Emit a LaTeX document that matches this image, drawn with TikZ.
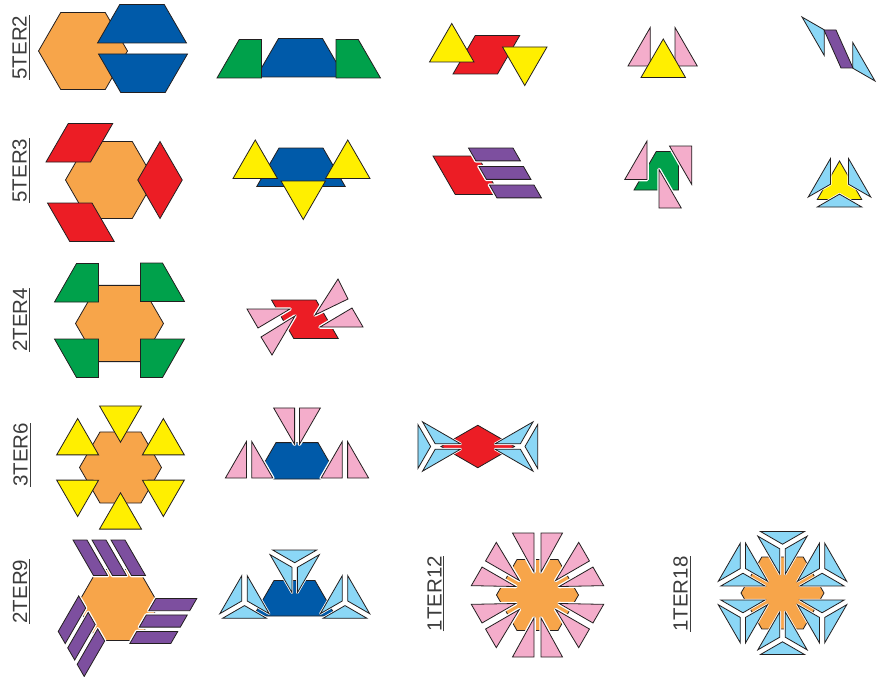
\documentclass[tikz,border=0pt]{standalone}
\usepackage{fontspec}
\newfontfamily\lblfont{Liberation Sans}
\usetikzlibrary{calc}
\definecolor{pbhex}{HTML}{F7A54A}
\definecolor{pbtrap}{HTML}{005AA9}
\definecolor{pbrhomb}{HTML}{EC1D25}
\definecolor{pbtri}{HTML}{FFEF00}
\definecolor{pbgreen}{HTML}{00A14B}
\definecolor{pbpink}{HTML}{F4ADCB}
\definecolor{pbsky}{HTML}{8BD7F6}
\definecolor{pbpurple}{HTML}{7D4F9F}
\definecolor{pbline}{HTML}{231F20}
\definecolor{pbtext}{HTML}{3C3C3C}

\begin{document}
\begin{tikzpicture}[
  x=1pt, y=1pt,
  piece/.style={draw=pbline, line width=0.8pt, line join=miter},
  halo/.style={preaction={draw=white, line width=3.5pt, line join=round}},
  thinhalo/.style={preaction={draw=white, line width=2.4pt, line join=round}},
  hexa/.style={piece, fill=pbhex},
  trap/.style={piece, fill=pbtrap},
  rhomb/.style={piece, fill=pbrhomb},
  tri/.style={piece, fill=pbtri},
  grn/.style={piece, fill=pbgreen},
  pink/.style={piece, halo, fill=pbpink},
  sky/.style={piece, thinhalo, fill=pbsky},
  purp/.style={piece, fill=pbpurple},
  lbl/.style={rotate=90, inner sep=0pt, text=pbtext,
    font=\lblfont\fontsize{20.5}{24}\selectfont},
  rule/.style={draw=pbtext, line width=0.9pt},
  hexpc/.pic={\draw[hexa] (0:1) \foreach \a in {60,120,...,300} {-- (\a:1)} -- cycle;},
  skygroup/.pic={\foreach \a in {0,120,240}
    \draw[sky, shift={(\a+60:0.07)}] (0,0) -- (\a:0.5774) -- (\a+120:0.5774) -- cycle;},
]
\useasboundingbox (0,0) rectangle (889,-677);

% labels
\node[lbl] (t52) at (19.5,-47.5) {5TER2};
\node[lbl] (t53) at (19.5,-170.5) {5TER3};
\node[lbl] (t24) at (20,-320) {2TER4};
\node[lbl] (t36) at (20.5,-455) {3TER6};
\node[lbl] (t29) at (20,-591.5) {2TER9};
\node[lbl] (t112) at (434.5,-593.5) {1TER12};
\node[lbl] (t118) at (680.5,-594) {1TER18};
\foreach \t in {t52,t53,t24,t36,t29,t112,t118}
  \draw[rule] ([xshift=2pt]\t.south west) -- ([xshift=2pt]\t.south east);

\begin{scope}[yscale=-1]
% 5TER2
\pic[transform shape, scale=44.5] at (83,51) {hexpc};
\draw[trap] (97.5,43) -- (186.5,43) -- (164.25,4.5) -- (119.75,4.5) -- cycle;
\draw[trap] (98.5,54) -- (187.5,54) -- (165.25,92.5) -- (120.75,92.5) -- cycle;

\draw[trap] (256.25,77) -- (344.75,77) -- (322.5,38.5) -- (278.5,38.5) -- cycle;
\draw[grn] (217,78) -- (261.5,78) -- (261.5,39.5) -- (239.25,39.5) -- cycle;
\draw[grn] (336,78) -- (380.5,78) -- (358.25,39.5) -- (336,39.5) -- cycle;

\draw[rhomb] (453,74) -- (497.5,74) -- (519.75,35.5) -- (475.25,35.5) -- cycle;
\draw[tri] (429.5,62) -- (474,62) -- (451.75,23.5) -- cycle;
\draw[tri] (502.5,47) -- (547,47) -- (524.75,85.5) -- cycle;

\draw[pink] (628,66) -- (650.25,66) -- (650.25,27.5) -- cycle;
\draw[pink] (675,66) -- (697.25,66) -- (675,27.5) -- cycle;
\draw[tri] (641,77.5) -- (685.5,77.5) -- (663.25,39) -- cycle;

\draw[sky] (802,17) -- (824.25,55.5) -- (824.2,29.8) -- cycle;
\draw[sky] (875,81) -- (852.75,42.5) -- (852.8,68.2) -- cycle;
\draw[purp] (824,30) -- (836,30) -- (853,68) -- (841,68) -- cycle;

% 5TER3
\pic[transform shape, scale=44.5] at (110,180) {hexpc};
\draw[rhomb] (46,162) -- (90.5,162) -- (112.75,123.5) -- (68.25,123.5) -- cycle;
\draw[rhomb] (47.5,203) -- (92,203) -- (114.25,241.5) -- (69.75,241.5) -- cycle;
\draw[rhomb] (137.75,180) -- (160,141.5) -- (182.25,180) -- (160,218.5) -- cycle;

\draw[trap] (256.75,186.5) -- (345.25,186.5) -- (323,148) -- (279,148) -- cycle;
\draw[tri] (233,178.5) -- (277.5,178.5) -- (255.25,140) -- cycle;
\draw[tri] (325.5,178.5) -- (370,178.5) -- (347.75,140) -- cycle;
\draw[tri] (281,181) -- (325.5,181) -- (303.25,219.5) -- cycle;

\draw[rhomb] (433,156) -- (477.5,156) -- (499.75,194.5) -- (455.25,194.5) -- cycle;
\foreach \k in {0,1,2}
  \draw[purp, halo, shift={(10.5*\k,18.5*\k)}] (468.5,148) -- (513,148) -- (520.4,160.85) -- (475.9,160.85) -- cycle;

\draw[grn] (634,190) -- (678.5,190) -- (678.5,151.5) -- (656.25,151.5) -- cycle;
\draw[pink] (624.75,179.5) -- (647,179.5) -- (647,141) -- cycle;
\draw[pink] (669.5,146) -- (691.75,146) -- (691.75,184.5) -- cycle;
\draw[pink] (659,169.5) -- (659,208) -- (681.25,208) -- cycle;

\draw[tri] (817.25,199.5) -- (861.75,199.5) -- (839.5,161) -- cycle;
\draw[sky] (830.5,158.5) -- (808.25,197) -- (830.5,184.2) -- cycle;
\draw[sky] (848.5,158.5) -- (870.75,197) -- (848.5,184.2) -- cycle;
\draw[sky] (817.25,207) -- (861.75,207) -- (839.5,194.15) -- cycle;

% 2TER4
\pic[transform shape, scale=44] at (119.5,323.5) {hexpc};
\draw[grn] (54.5,302) -- (98.5,302) -- (98.5,263.5) -- (76.5,263.5) -- cycle;
\draw[grn] (140.5,301.5) -- (184.5,301.5) -- (162.5,263) -- (140.5,263) -- cycle;
\draw[grn] (54.5,339) -- (98.5,339) -- (98.5,377.5) -- (76.5,377.5) -- cycle;
\draw[grn] (140.5,339) -- (184.5,339) -- (162.5,377.5) -- (140.5,377.5) -- cycle;

\draw[rhomb] (271.5,300) -- (316,300) -- (338.25,338.5) -- (293.75,338.5) -- cycle;
\draw[pink] (258,328) -- (247,309) -- (290,309) -- cycle;
\draw[pink] (261,337) -- (272,355) -- (295,316) -- cycle;
\draw[pink] (348,299) -- (338,279) -- (315,315) -- cycle;
\draw[pink] (352,308) -- (363,327) -- (320,327) -- cycle;

% 3TER6
\pic[transform shape, scale=41] at (120.5,467.5) {hexpc};
\foreach \a in {30,90,...,330}
  \draw[tri, shift={(120.5,467.5)}, rotate=\a] (25.3,0) -- (61.6,21) -- (61.6,-21) -- cycle;

\draw[trap] (255,479) -- (339,479) -- (318,442.6) -- (276,442.6) -- cycle;
\draw[pink] (294.6,407.9) -- (273.6,407.9) -- (294.6,444.3) -- cycle;
\draw[pink] (299.4,407.9) -- (320.4,407.9) -- (299.4,444.3) -- cycle;
\draw[pink] (246.4,478) -- (246.4,441.6) -- (225.4,478) -- cycle;
\draw[pink] (251.8,478) -- (251.8,441.6) -- (272.8,478) -- cycle;
\draw[pink] (342.2,478) -- (342.2,441.6) -- (321.2,478) -- cycle;
\draw[pink] (347.6,478) -- (347.6,441.6) -- (368.6,478) -- cycle;

\draw[rhomb] (441,446.5) -- (477.8,425.25) -- (514.6,446.5) -- (477.8,467.75) -- cycle;
\pic[transform shape, scale=44] at (433.7,446.5) {skygroup};
\pic[transform shape, scale=44, rotate=180] at (521.9,446.5) {skygroup};

% 2TER9
\pic[transform shape, scale=41] at (118,605) {hexpc};
\foreach \r in {0,120,240}
  \foreach \k in {0,1,2}
    \draw[purp, halo, rotate around={\r:(118,605)}, shift={(19*\k,0)}]
      (73,540) -- (87,540) -- (107.5,575.5) -- (93.5,575.5) -- cycle;

\draw[trap] (253.5,616) -- (335.5,616) -- (315,580.5) -- (274,580.5) -- cycle;
\pic[transform shape, scale=44, rotate=270] at (244.5,602.5) {skygroup};
\pic[transform shape, scale=44, rotate=270] at (345,602.5) {skygroup};
\pic[transform shape, scale=44, rotate=90] at (294.7,565.8) {skygroup};

% 1TER12
\pic[transform shape, scale=41] at (537.5,595) {hexpc};
\foreach \a in {30,90,...,330} {
  \draw[pink, shift={(537.5,595)}, rotate=\a] (62,3.5) -- (62,25) -- (23,3.5) -- cycle;
  \draw[pink, shift={(537.5,595)}, rotate=\a] (62,-3.5) -- (62,-25) -- (23,-3.5) -- cycle;
}

% 1TER18
\pic[transform shape, scale=41.5] at (782.5,593) {hexpc};
\foreach \a in {30,90,...,330} {
  \begin{scope}[shift={(782.5,593)}, rotate=\a]
    \pic[transform shape, scale=44, rotate=180] at (45.7,0) {skygroup};
  \end{scope}
}
\end{scope}
\end{tikzpicture}
\end{document}
